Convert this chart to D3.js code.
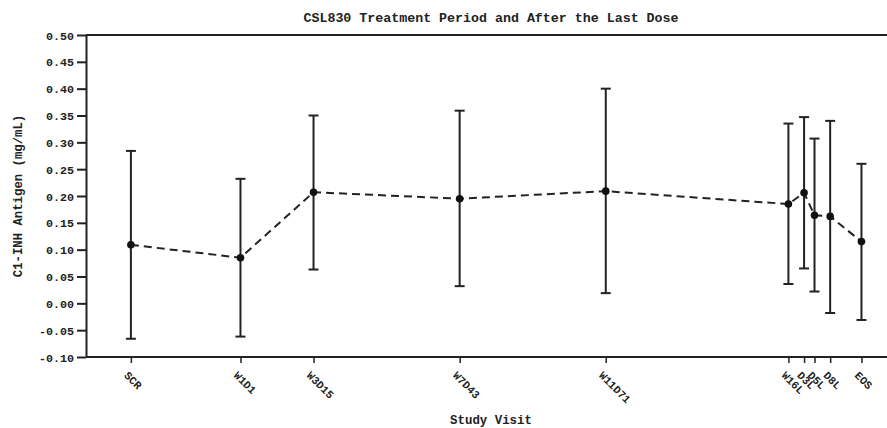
<!DOCTYPE html>
<html>
<head>
<meta charset="utf-8">
<script src="https://cdn.jsdelivr.net/npm/d3@7"></script>
<style>
  body { margin: 0; background: #fff; }
  svg { display: block; }
  text { font-family: "Liberation Mono", "Courier New", monospace; font-weight: bold; fill: #222; }
</style>
</head>
<body>
<svg id="chart" width="887" height="428"></svg>
<script>
// Visits, their study day, and mean with interval bounds
const visits = ["SCR", "W1D1", "W3D15", "W7D43", "W11D71", "W16L", "D3L", "D5L", "D8L", "EOS"];
const studyDays = [-20, 1, 15, 43, 71, 106, 109, 111, 114, 120];
const means = [0.109, 0.085, 0.207, 0.195, 0.209, 0.185, 0.206, 0.164, 0.162, 0.115];
const upper = [0.284, 0.232, 0.350, 0.359, 0.400, 0.335, 0.347, 0.307, 0.340, 0.260];
const lower = [-0.066, -0.062, 0.063, 0.032, 0.019, 0.036, 0.065, 0.022, -0.018, -0.031];
const yTicks = [-0.10, -0.05, 0.00, 0.05, 0.10, 0.15, 0.20, 0.25, 0.30, 0.35, 0.40, 0.45, 0.50];

const W = 887, H = 428;
const plotLeft = 86, plotTop = 35, plotBottom = 357;

const svg = d3.select("#chart");

const x = d3.scaleLinear().domain([-28.6, 127]).range([plotLeft, 898]);
const y = d3.scaleLinear().domain([-0.10, 0.50]).range([plotBottom, plotTop]);

const rows = visits.map((v, i) => ({
  visit: v, day: studyDays[i], mean: means[i], hi: upper[i], lo: lower[i]
}));

// Frame: top border line
svg.append("line")
  .attr("x1", plotLeft).attr("x2", W)
  .attr("y1", plotTop).attr("y2", plotTop)
  .attr("stroke", "#222").attr("stroke-width", 2);

// Y axis
const yAxis = svg.append("g")
  .attr("transform", `translate(${plotLeft},0)`)
  .call(d3.axisLeft(y).tickValues(yTicks).tickFormat(d3.format(".2f")).tickSize(9).tickPadding(3).tickSizeOuter(0));
yAxis.select(".domain").attr("stroke", "#222").attr("stroke-width", 2);
yAxis.selectAll(".tick line").attr("stroke", "#222").attr("stroke-width", 2);
yAxis.selectAll(".tick text")
  .style("font-size", "11.7px")
  .attr("dy", "0.35em")
  .text(d => d3.format(".2f")(d).replace("\u2212", "-"));

// X axis
const xAxis = svg.append("g")
  .attr("transform", `translate(0,${plotBottom})`)
  .call(d3.axisBottom(x).tickValues(studyDays).tickSize(6).tickSizeOuter(0)
    .tickFormat((d, i) => visits[i]));
xAxis.select(".domain").attr("stroke", "#222").attr("stroke-width", 2)
  .attr("d", `M${plotLeft},0H${W}`);
xAxis.selectAll(".tick line").attr("stroke", "#222").attr("stroke-width", 1.5);
xAxis.selectAll(".tick text")
  .style("font-size", "11px")
  .attr("text-anchor", "start")
  .attr("y", 0).attr("dy", 0)
  .attr("transform", "translate(-8,19) rotate(45)");

// Error bars
const bars = svg.append("g").attr("stroke", "#222").attr("stroke-width", 2);
bars.selectAll("line.v").data(rows).join("line").attr("class", "v")
  .attr("x1", d => x(d.day)).attr("x2", d => x(d.day))
  .attr("y1", d => y(d.hi)).attr("y2", d => y(d.lo));
bars.selectAll("line.cu").data(rows).join("line").attr("class", "cu")
  .attr("x1", d => x(d.day) - 5).attr("x2", d => x(d.day) + 5)
  .attr("y1", d => y(d.hi)).attr("y2", d => y(d.hi));
bars.selectAll("line.cl").data(rows).join("line").attr("class", "cl")
  .attr("x1", d => x(d.day) - 5).attr("x2", d => x(d.day) + 5)
  .attr("y1", d => y(d.lo)).attr("y2", d => y(d.lo));

// Dashed line through the means
svg.append("path")
  .datum(rows)
  .attr("fill", "none")
  .attr("stroke", "#222")
  .attr("stroke-width", 2)
  .attr("stroke-dasharray", "8,5")
  .attr("d", d3.line().x(d => x(d.day)).y(d => y(d.mean)));

// Mean markers
svg.append("g").selectAll("circle").data(rows).join("circle")
  .attr("cx", d => x(d.day)).attr("cy", d => y(d.mean))
  .attr("r", 3.8).attr("fill", "#111");

// Titles
svg.append("text")
  .attr("x", 491).attr("y", 22)
  .attr("text-anchor", "middle")
  .style("font-size", "13.3px")
  .text("CSL830 Treatment Period and After the Last Dose");

svg.append("text")
  .attr("x", 491).attr("y", 424)
  .attr("text-anchor", "middle")
  .style("font-size", "12.4px")
  .text("Study Visit");

svg.append("text")
  .attr("transform", "translate(22,196) rotate(-90)")
  .attr("text-anchor", "middle")
  .style("font-size", "12.3px")
  .text("C1-INH Antigen (mg/mL)");
</script>
</body>
</html>
